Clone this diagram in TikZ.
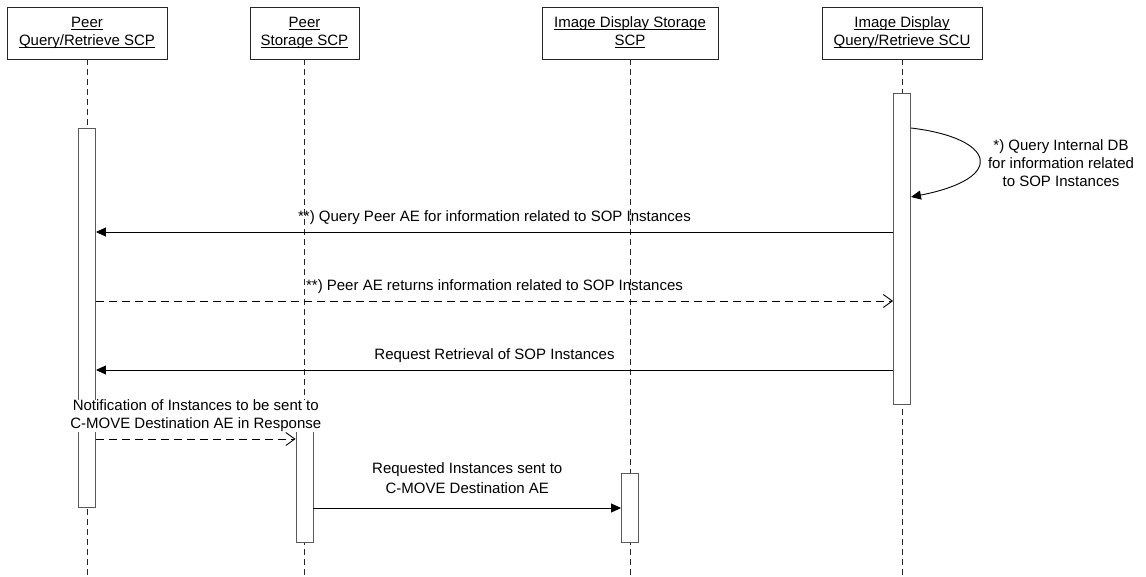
\documentclass[tikz,border=0pt]{standalone}
\usepackage{fontspec}
\setmainfont{Liberation Sans}
\usetikzlibrary{arrows.meta}
\newcommand{\ulx}[1]{\underline{\smash{#1}}\strut}
\begin{document}
\begin{tikzpicture}[x=1pt,y=-1pt,
  font=\fontsize{15}{18}\selectfont,
  hdr/.style={draw=black!85, line width=0.9pt, minimum height=52pt, align=center, inner sep=2pt},
  act/.style={draw=black!65, fill=white, line width=0.9pt, minimum width=17pt, inner sep=0pt},
  life/.style={draw=black!85, line width=0.9pt, dash pattern=on 6pt off 4pt},
  sync/.style={draw=black, line width=0.9pt, -{Triangle[length=10pt,width=9pt]}},
  reply/.style={draw=black, line width=0.9pt, dash pattern=on 8pt off 5pt, -{Straight Barb[length=9pt,width=13pt]}},
  lbl/.style={align=center, inner sep=0.5pt}
]
\useasboundingbox (0,0) rectangle (1146,576);

% headers
\node[hdr, minimum width=160pt] (h1) at (87,33) {\ulx{Peer}\\\ulx{Query/Retrieve SCP}};
\node[hdr, minimum width=109pt] (h2) at (304.5,33) {\ulx{Peer}\\\ulx{Storage SCP}};
\node[hdr, minimum width=176pt] (h3) at (630,33) {\ulx{Image Display Storage}\\\ulx{SCP}};
\node[hdr, minimum width=160pt] (h4) at (902,33) {\ulx{Image Display}\\\ulx{Query/Retrieve SCU}};

% lifelines
\coordinate (bot) at (0,576);
\draw[life] (h1.south) -- (h1.south |- bot);
\draw[life] (h2.south) -- (h2.south |- bot);
\draw[life] (h3.south) -- (h3.south |- bot);
\draw[life] (h4.south) -- (h4.south |- bot);

% activations
\node[act, minimum height=379pt] (a1) at (87,317.5) {};
\node[act, minimum height=138pt] (a2) at (304.5,473) {};
\node[act, minimum height=69pt] (a3) at (630,507.5) {};
\node[act, minimum height=311pt] (a4) at (902,248.5) {};

% message levels
\coordinate (ys1) at (0,128);
\coordinate (ys2) at (0,197);
\coordinate (y1) at (0,232);
\coordinate (y2) at (0,301);
\coordinate (y3) at (0,370);
\coordinate (y4) at (0,439);
\coordinate (y5) at (0,508);

% self call
\draw[sync] (a4.east |- ys1) .. controls (995,138) and (1008,178) .. (a4.east |- ys2);
\node[lbl] (sl) at (1061,163) {*) Query Internal DB\\for information related\\to SOP Instances};

% messages
\draw[sync] (a4.west |- y1) -- (a1.east |- y1)
  node[lbl, midway, yshift=14pt] (m1) {**) Query Peer AE for information related to SOP Instances};
\draw[reply] (a1.east |- y2) -- (a4.west |- y2)
  node[lbl, midway, yshift=14pt] (m2) {**) Peer AE returns information related to SOP Instances};
\draw[sync] (a4.west |- y3) -- (a1.east |- y3)
  node[lbl, midway, yshift=14pt] (m3) {Request Retrieval of SOP Instances};
\draw[reply] (a1.east |- y4) -- (a2.west |- y4)
  node[lbl, fill=white, midway, yshift=23pt] (m4) {Notification of Instances to be sent to\\C-MOVE Destination AE in Response};
\draw[sync] (a2.east |- y5) -- (a3.west |- y5)
  node[lbl, midway, yshift=30pt, font=\fontsize{15}{19.5}\selectfont] (m5) {Requested Instances sent to\\C-MOVE Destination AE};
\end{tikzpicture}
\end{document}
